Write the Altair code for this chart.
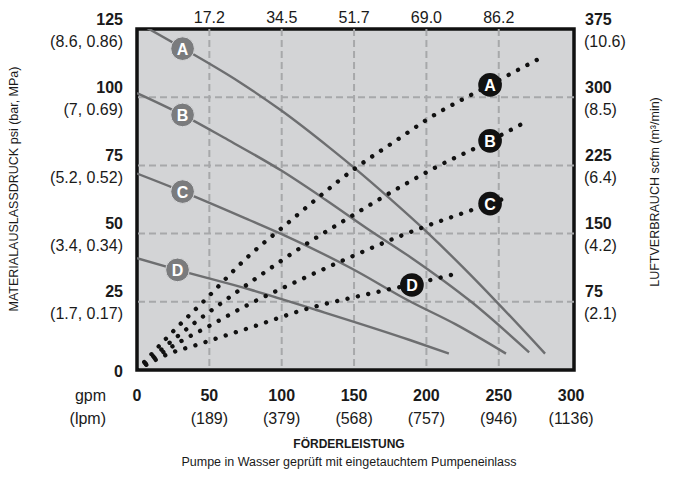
import altair as alt
import pandas as pd

# ---------------- data ----------------
# material outlet pressure curves (psi vs gpm)
a_gpm = [6.6, 31.5, 71, 100, 133, 151, 175, 200, 225, 248.5, 282]
a_psi = [125.5, 118, 105.5, 95, 81.5, 73.7, 62.7, 50.7, 37.8, 25, 6]
b_gpm = [0, 31.5, 60, 100, 130, 160, 190, 231, 271]
b_psi = [101.5, 93.5, 85.2, 73, 62.5, 51.5, 41, 25, 6.5]
c_gpm = [0, 31.5, 78, 100, 148, 188.5, 220, 255]
c_psi = [72, 65.4, 54.9, 49.8, 37.3, 25.2, 16.8, 6]
d_gpm = [0, 28, 78, 124, 188.5, 215.5]
d_psi = [41, 36.7, 29.5, 22, 11, 6]

# air consumption curves (scfm vs gpm)
a_air_gpm = [0, 22.5, 47, 78, 100, 151, 181.5, 200, 244, 281]
a_air_scfm = [0, 38.5, 77, 126.5, 156, 222, 255, 275, 313.5, 345]
b_air_gpm = [0, 41.6, 58.7, 82.4, 118.4, 142.8, 186, 206, 244, 270]
b_air_scfm = [0, 54, 74, 101, 140, 164, 205, 222.5, 252, 274]
c_air_gpm = [0, 33, 46, 77, 110, 143, 183, 244, 258]
c_air_scfm = [0, 34, 45, 72, 97, 121, 148, 183, 191]
d_air_gpm = [0, 21.6, 42.5, 56.4, 77, 119, 161, 175, 190, 203, 217]
d_air_scfm = [0, 17.6, 28.2, 35.5, 46, 68, 84, 89, 94, 99, 104.5]

# curve label markers
curve_names = ["A", "B", "C", "D"]
fluid_label_gpm = [31.5, 31.5, 31.5, 28]
fluid_label_psi = [117.8, 93.5, 65.4, 36.7]
air_label_gpm = [244, 244, 244, 190]
air_label_scfm = [313.5, 252, 183, 93.5]

# axis ticks / labels
x_ticks = [0, 50, 100, 150, 200, 250, 300]
x_lpm = ["", "(189)", "(379)", "(568)", "(757)", "(946)", "(1136)"]
x_grid = [50, 100, 150, 200, 250]
x_top = ["17.2", "34.5", "51.7", "69.0", "86.2"]
y_ticks = [25, 50, 75, 100, 125]
y_sub = ["(1.7, 0.17)", "(3.4, 0.34)", "(5.2, 0.52)", "(7, 0.69)", "(8.6, 0.86)"]
y_zero = [0]
y_grid = [25, 50, 75, 100]
r_ticks = [75, 150, 225, 300, 375]
r_sub = ["(2.1)", "(4.2)", "(6.4)", "(8.5)", "(10.6)"]

# ---------------- tables ----------------
def long(names, xs_, ys_, xn, yn):
    rows = []
    for n, xv, yv in zip(names, xs_, ys_):
        for i, (a, b) in enumerate(zip(xv, yv)):
            rows.append({"series": n, xn: a, yn: b, "order": i})
    return pd.DataFrame(rows)

fluid = long(curve_names, [a_gpm, b_gpm, c_gpm, d_gpm], [a_psi, b_psi, c_psi, d_psi], "gpm", "psi")
air = long(curve_names, [a_air_gpm, b_air_gpm, c_air_gpm, d_air_gpm],
           [a_air_scfm, b_air_scfm, c_air_scfm, d_air_scfm], "gpm", "scfm")
fl_lab = pd.DataFrame({"series": curve_names, "gpm": fluid_label_gpm, "psi": fluid_label_psi})
air_lab = pd.DataFrame({"series": curve_names, "gpm": air_label_gpm, "scfm": air_label_scfm})
xt = pd.DataFrame({"gpm": x_ticks, "lab": [str(v) for v in x_ticks], "sub": x_lpm})
xg = pd.DataFrame({"gpm": x_grid, "top": x_top})
yt = pd.DataFrame({"psi": y_ticks, "lab": [str(v) for v in y_ticks], "sub": y_sub})
yz = pd.DataFrame({"psi": y_zero, "lab": [str(v) for v in y_zero]})
yg = pd.DataFrame({"psi": y_grid})
rt = pd.DataFrame({"scfm": r_ticks, "lab": [str(v) for v in r_ticks], "sub": r_sub})

# ---------------- chart ----------------
FONT = "Liberation Sans, Arial, Helvetica, sans-serif"
W, H = 437, 341
xs = alt.Scale(domain=[0, 302], nice=False)
ys = alt.Scale(domain=[0, 125], nice=False)

def X(f):
    return alt.X(f, type="quantitative", scale=xs, axis=None)

def Y(f):
    return alt.Y(f, type="quantitative", scale=ys, axis=None)

GRID = dict(color="#a7a8aa", strokeWidth=2, strokeDash=[7, 4])

vgrid = alt.Chart(xg).mark_rule(**GRID).encode(x=X("gpm"))
hgrid = alt.Chart(yg).mark_rule(**GRID).encode(y=Y("psi"))

fluid_lines = alt.Chart(fluid).mark_line(
    color="#6d6e70", strokeWidth=2.4, interpolate="monotone", clip=True
).encode(x=X("gpm"), y=Y("psi"), detail="series:N", order="order:Q")

air_lines = alt.Chart(air).transform_calculate(psi="datum.scfm / 3").mark_line(
    color="#111111", strokeWidth=4.4, strokeCap="round", strokeDash=[0.01, 10.6],
    interpolate="monotone", clip=True
).encode(x=X("gpm"), y=Y("psi"), detail="series:N", order="order:Q")

fl_circ = alt.Chart(fl_lab).mark_circle(
    size=560, color="#7a7b7d", opacity=1, stroke="#d8d9db", strokeWidth=1
).encode(x=X("gpm"), y=Y("psi"))
fl_txt = alt.Chart(fl_lab).mark_text(
    font=FONT, fontWeight="bold", fontSize=16, color="white", dy=1
).encode(x=X("gpm"), y=Y("psi"), text="series:N")

air_base = alt.Chart(air_lab).transform_calculate(psi="datum.scfm / 3")
air_circ = air_base.mark_circle(size=560, color="#111111", opacity=1).encode(x=X("gpm"), y=Y("psi"))
air_txt = air_base.mark_text(
    font=FONT, fontWeight="bold", fontSize=16, color="white", dy=1
).encode(x=X("gpm"), y=Y("psi"), text="series:N")

LBL = dict(font=FONT, fontSize=16, color="#1a1a1a")

x_bold = alt.Chart(xt).mark_text(fontWeight="bold", baseline="middle", **LBL).encode(
    x=X("gpm"), y=alt.value(367), text="lab:N")
x_sub = alt.Chart(xt).mark_text(baseline="middle", **LBL).encode(
    x=X("gpm"), y=alt.value(390), text="sub:N")
x_top_t = alt.Chart(xg).mark_text(baseline="alphabetic", **LBL).encode(
    x=X("gpm"), y=alt.value(-6), text="top:N")

y_bold = alt.Chart(yt).mark_text(fontWeight="bold", baseline="middle", align="right", dy=-9.5, **LBL).encode(
    x=alt.value(-14), y=Y("psi"), text="lab:N")
y_sub_t = alt.Chart(yt).mark_text(baseline="middle", align="right", dy=12.5, **LBL).encode(
    x=alt.value(-14), y=Y("psi"), text="sub:N")
y_zero_t = alt.Chart(yz).mark_text(fontWeight="bold", baseline="middle", align="right", dy=2, **LBL).encode(
    x=alt.value(-14), y=Y("psi"), text="lab:N")

r_base = alt.Chart(rt).transform_calculate(psi="datum.scfm / 3")
r_bold = r_base.mark_text(fontWeight="bold", baseline="middle", align="left", dy=-9.5, **LBL).encode(
    x=alt.value(448), y=Y("psi"), text="lab:N")
r_sub_t = r_base.mark_text(baseline="middle", align="left", dy=12.5, **LBL).encode(
    x=alt.value(447), y=Y("psi"), text="sub:N")

gpm_df = pd.DataFrame({"u": ["gpm"]})
lpm_df = pd.DataFrame({"u": ["(lpm)"]})
unit1 = alt.Chart(gpm_df).mark_text(baseline="middle", align="right", **LBL).encode(
    x=alt.value(-31), y=alt.value(367), text="u:N")
unit2 = alt.Chart(lpm_df).mark_text(baseline="middle", align="right", **LBL).encode(
    x=alt.value(-31), y=alt.value(390), text="u:N")

title_df = pd.DataFrame({"t": ["FÖRDERLEISTUNG"]})
sub_df = pd.DataFrame({"t": ["Pumpe in Wasser geprüft mit eingetauchtem Pumpeneinlass"]})
ltitle_df = pd.DataFrame({"t": ["MATERIALAUSLASSDRUCK psi (bar, MPa)"]})
rtitle_df = pd.DataFrame({"t": ["LUFTVERBRAUCH scfm (m³/min)"]})

title = alt.Chart(title_df).mark_text(font=FONT, fontSize=12, fontWeight="bold", color="#1a1a1a",
                                      baseline="middle").encode(
    x=alt.value(212), y=alt.value(415), text="t:N")
subtitle = alt.Chart(sub_df).mark_text(font=FONT, fontSize=12.5, color="#1a1a1a", baseline="middle").encode(
    x=alt.value(212), y=alt.value(433), text="t:N")
ltitle = alt.Chart(ltitle_df).mark_text(font=FONT, fontSize=12.5, color="#1a1a1a", baseline="middle",
                                        angle=270).encode(
    x=alt.value(-123), y=alt.value(160), text="t:N")
rtitle = alt.Chart(rtitle_df).mark_text(font=FONT, fontSize=12.5, color="#1a1a1a", baseline="middle",
                                        angle=270).encode(
    x=alt.value(518), y=alt.value(163), text="t:N")

chart = alt.layer(
    vgrid, hgrid, fluid_lines, air_lines, fl_circ, fl_txt, air_circ, air_txt,
    x_bold, x_sub, x_top_t, y_bold, y_sub_t, y_zero_t, r_bold, r_sub_t, unit1, unit2,
    title, subtitle, ltitle, rtitle
).properties(
    width=W, height=H,
    autosize=alt.AutoSizeParams(type="none"),
    padding={"left": 129, "top": 21, "right": 98, "bottom": 101},
    background="white",
).configure_view(
    fill="#d3d4d6", stroke="#111111", strokeWidth=3.5
)

chart.save("out.html", embed_options={"renderer": "svg", "actions": False})
